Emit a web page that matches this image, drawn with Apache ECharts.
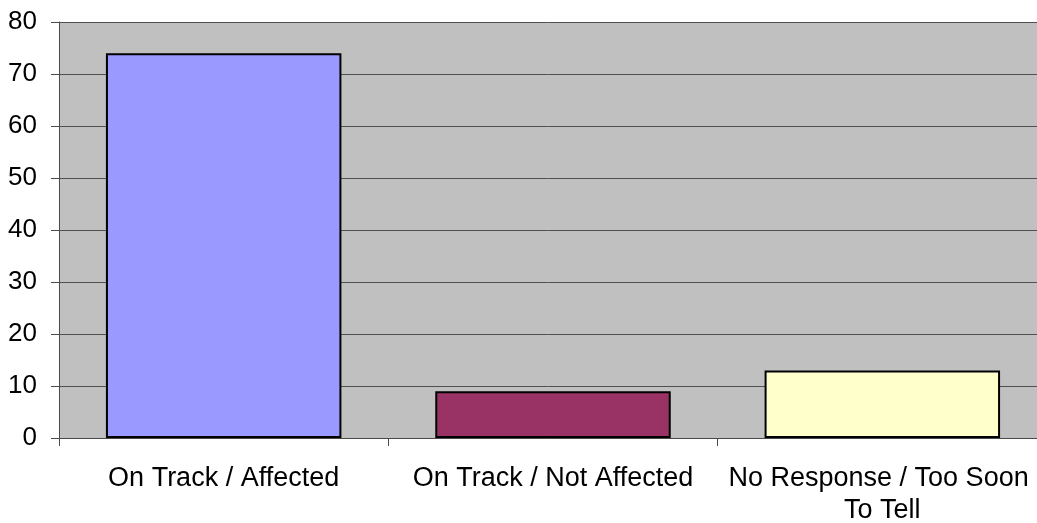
<!DOCTYPE html>
<html>
<head>
<meta charset="utf-8">
<script src="https://cdn.jsdelivr.net/npm/echarts@6/dist/echarts.min.js"></script>
<style>
  html, body { margin: 0; padding: 0; background: #ffffff; }
  #chart { width: 1037px; height: 523px; }
</style>
</head>
<body>
<div id="chart"></div>
<script>
// Survey responses by status
const categories = ['On Track / Affected', 'On Track / Not Affected', 'No Response / Too Soon To Tell'];
const counts = [74, 9, 13];
const barColors = ['#9999FF', '#993366', '#FFFFCC'];
const yTicks = { min: 0, max: 80, interval: 10 };

const FONT = '"Liberation Sans", Arial, sans-serif';

const chart = echarts.init(document.getElementById('chart'), null, { renderer: 'canvas' });

chart.setOption({
  animation: false,
  backgroundColor: '#ffffff',
  grid: {
    left: 59,
    top: 22,
    bottom: 85,
    right: -10,
    show: true,
    backgroundColor: '#C0C0C0',
    borderWidth: 0,
    outerBoundsMode: 'none'
  },
  xAxis: {
    type: 'category',
    data: categories,
    boundaryGap: true,
    axisLine: { show: true, lineStyle: { color: '#4a4a4a', width: 1 } },
    axisTick: { show: true, length: 8, lineStyle: { color: '#4a4a4a', width: 1 } },
    axisLabel: {
      interval: 0,
      color: '#000000',
      fontFamily: FONT,
      fontSize: 27,
      lineHeight: 32,
      margin: 25,
      width: 320,
      overflow: 'break',
      align: 'center'
    },
    splitLine: { show: false }
  },
  yAxis: {
    type: 'value',
    min: yTicks.min,
    max: yTicks.max,
    interval: yTicks.interval,
    axisLine: { show: true, lineStyle: { color: '#4a4a4a', width: 1 } },
    axisTick: { show: true, length: 8, lineStyle: { color: '#4a4a4a', width: 1 } },
    axisLabel: {
      color: '#000000',
      fontFamily: FONT,
      fontSize: 26,
      margin: 22
    },
    splitLine: { show: true, lineStyle: { color: '#505050', width: 1 } }
  },
  series: [{
    type: 'bar',
    data: counts.map((v, i) => ({
      value: v,
      itemStyle: { color: barColors[i] }
    })),
    barWidth: '71.5%',
    itemStyle: { borderColor: '#000000', borderWidth: 2 }
  }]
});
</script>
</body>
</html>
